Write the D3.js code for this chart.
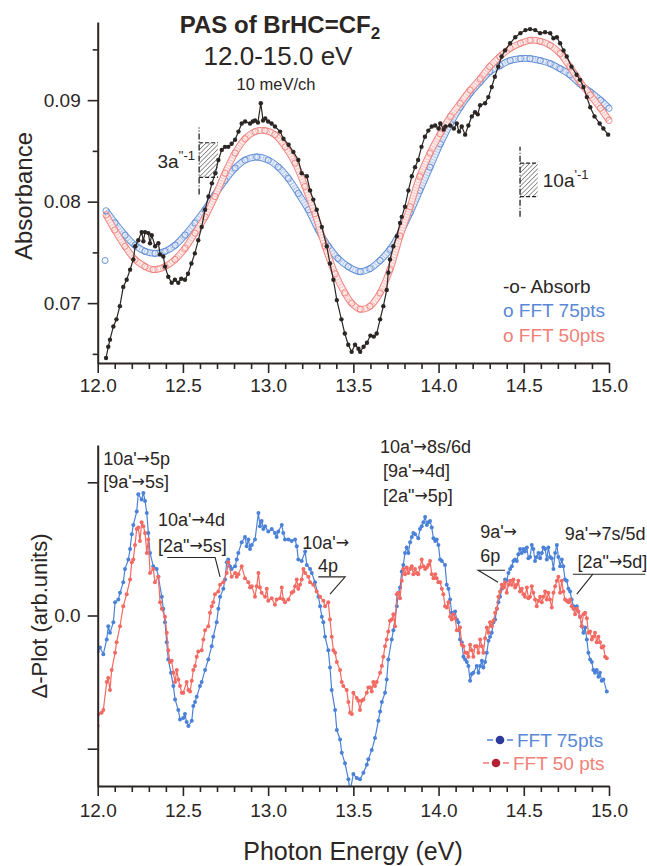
<!DOCTYPE html>
<html>
<head>
<meta charset="utf-8">
<script src="https://cdn.jsdelivr.net/npm/d3@7"></script>
<style>
  body { margin: 0; background: #fff; }
  svg { display: block; font-family: "Liberation Sans", Arial, sans-serif; }
</style>
</head>
<body>
<svg width="647" height="866"></svg>
<script>
// ---- Dados (eV, valor)
const absorb = [
  [12.049,0.0646],[12.062,0.0657],[12.072,0.0664],[12.092,0.0677],[12.110,0.0684],[12.130,0.0697],
  [12.150,0.0716],[12.170,0.0723],[12.190,0.0733],[12.209,0.0743],[12.220,0.0756],[12.238,0.0762],
  [12.258,0.0770],[12.268,0.0761],[12.278,0.0770],[12.297,0.0769],[12.307,0.0759],[12.317,0.0767],
  [12.337,0.0756],[12.356,0.0759],[12.366,0.0748],[12.385,0.0746],[12.395,0.0736],[12.414,0.0726],
  [12.434,0.0720],[12.453,0.0723],[12.473,0.0720],[12.490,0.0724],[12.512,0.0723],[12.530,0.0729],
  [12.550,0.0739],[12.570,0.0749],[12.590,0.0762],[12.610,0.0775],[12.630,0.0792],[12.650,0.0805],
  [12.670,0.0818],[12.690,0.0828],[12.708,0.0841],[12.728,0.0851],[12.747,0.0854],[12.766,0.0854],
  [12.786,0.0857],[12.806,0.0861],[12.826,0.0869],[12.845,0.0877],[12.865,0.0879],[12.894,0.0877],
  [12.910,0.0879],[12.923,0.0880],[12.940,0.0878],[12.957,0.0897],[12.970,0.0880],[12.983,0.0882],
  [13.000,0.0879],[13.020,0.0877],[13.040,0.0874],[13.070,0.0869],[13.090,0.0862],[13.120,0.0856],
  [13.148,0.0849],[13.177,0.0841],[13.197,0.0828],[13.227,0.0825],[13.246,0.0811],[13.265,0.0802],
  [13.285,0.0792],[13.315,0.0775],[13.344,0.0756],[13.363,0.0739],[13.383,0.0723],[13.403,0.0703],
  [13.430,0.0684],[13.450,0.0670],[13.470,0.0659],[13.490,0.0652],[13.510,0.0659],[13.530,0.0655],
  [13.540,0.0652],[13.560,0.0657],[13.580,0.0661],[13.600,0.0668],[13.620,0.0667],[13.637,0.0670],
  [13.657,0.0684],[13.676,0.0697],[13.696,0.0713],[13.705,0.0730],[13.715,0.0743],[13.735,0.0756],
  [13.755,0.0766],[13.774,0.0779],[13.784,0.0785],[13.803,0.0795],[13.823,0.0811],[13.843,0.0825],
  [13.862,0.0834],[13.880,0.0841],[13.900,0.0854],[13.920,0.0864],[13.940,0.0870],[13.960,0.0874],
  [13.980,0.0875],[14.000,0.0872],[14.010,0.0877],[14.030,0.0871],[14.040,0.0874],[14.068,0.0875],
  [14.090,0.0872],[14.107,0.0877],[14.120,0.0869],[14.136,0.0874],[14.156,0.0866],[14.175,0.0875],
  [14.195,0.0884],[14.214,0.0888],[14.230,0.0886],[14.244,0.0895],[14.273,0.0897],[14.292,0.0903],
  [14.312,0.0913],[14.330,0.0923],[14.350,0.0933],[14.370,0.0943],[14.390,0.0949],[14.420,0.0956],
  [14.450,0.0962],[14.480,0.0966],[14.510,0.0969],[14.537,0.0970],[14.567,0.0969],[14.596,0.0966],
  [14.625,0.0967],[14.655,0.0966],[14.674,0.0961],[14.694,0.0962],[14.713,0.0956],[14.733,0.0949],
  [14.752,0.0943],[14.780,0.0933],[14.810,0.0925],[14.830,0.0920],[14.850,0.0913],[14.870,0.0903],
  [14.890,0.0893],[14.915,0.0884],[14.945,0.0877],[14.967,0.0872],[14.995,0.0866]
];

const fft75Top = [
  [12.049,0.0791],[12.102,0.0779],[12.160,0.0767],[12.219,0.0757],[12.278,0.0751],[12.336,0.0749],
  [12.395,0.0751],[12.454,0.0757],[12.512,0.0767],[12.571,0.0779],[12.630,0.0792],[12.688,0.0807],
  [12.747,0.0821],[12.806,0.0833],[12.865,0.0841],[12.933,0.0844],[13.000,0.0841],[13.060,0.0834],
  [13.118,0.0823],[13.177,0.0808],[13.236,0.0792],[13.295,0.0772],[13.353,0.0756],[13.410,0.0744],
  [13.470,0.0736],[13.540,0.0731],[13.598,0.0734],[13.657,0.0742],[13.715,0.0753],[13.774,0.0769],
  [13.833,0.0789],[13.890,0.0811],[13.950,0.0834],[14.010,0.0857],[14.070,0.0877],[14.127,0.0893],
  [14.186,0.0907],[14.244,0.0918],[14.300,0.0928],[14.360,0.0934],[14.420,0.0939],[14.480,0.0941],
  [14.537,0.0941],[14.596,0.0939],[14.655,0.0936],[14.713,0.0931],[14.770,0.0925],[14.830,0.0916],
  [14.890,0.0908],[14.950,0.0900],[15.000,0.0892]
];
const fft75Stray = [[12.043,0.0742]];

const fft50Top = [
  [12.049,0.0787],[12.100,0.0772],[12.160,0.0756],[12.219,0.0743],[12.278,0.0736],[12.326,0.0733],
  [12.395,0.0736],[12.454,0.0743],[12.512,0.0754],[12.571,0.0769],[12.630,0.0785],[12.688,0.0805],
  [12.747,0.0828],[12.806,0.0848],[12.865,0.0862],[12.923,0.0869],[12.982,0.0870],[13.040,0.0866],
  [13.100,0.0854],[13.158,0.0838],[13.216,0.0815],[13.275,0.0788],[13.334,0.0756],[13.393,0.0729],
  [13.450,0.0710],[13.490,0.0700],[13.540,0.0694],[13.598,0.0697],[13.657,0.0710],[13.715,0.0733],
  [13.774,0.0766],[13.833,0.0795],[13.890,0.0825],[13.950,0.0848],[14.010,0.0867],[14.070,0.0884],
  [14.127,0.0897],[14.186,0.0910],[14.244,0.0921],[14.300,0.0933],[14.360,0.0943],[14.420,0.0951],
  [14.480,0.0956],[14.537,0.0959],[14.596,0.0958],[14.655,0.0954],[14.713,0.0946],[14.770,0.0933],
  [14.830,0.0918],[14.890,0.0905],[14.950,0.0892],[15.000,0.0880]
];

const fft75Delta = [
  [12.000,-0.27],[12.013,-0.24],[12.033,-0.29],[12.053,-0.18],[12.062,-0.08],[12.072,-0.13],[12.092,-0.05],
  [12.102,0.10],[12.121,0.12],[12.131,0.17],[12.150,0.25],[12.160,0.35],[12.180,0.42],[12.190,0.50],
  [12.200,0.61],[12.209,0.68],[12.229,0.78],[12.238,0.91],[12.258,0.87],[12.268,0.92],[12.278,0.86],
  [12.288,0.77],[12.297,0.62],[12.307,0.47],[12.326,0.37],[12.346,0.35],[12.356,0.29],[12.376,0.14],
  [12.385,0.05],[12.395,-0.05],[12.405,-0.20],[12.414,-0.33],[12.430,-0.43],[12.444,-0.53],[12.454,-0.63],
  [12.473,-0.71],[12.483,-0.78],[12.502,-0.77],[12.512,-0.74],[12.522,-0.80],[12.532,-0.83],[12.552,-0.79],
  [12.561,-0.68],[12.571,-0.65],[12.581,-0.61],[12.600,-0.53],[12.610,-0.50],[12.630,-0.41],[12.649,-0.33],
  [12.669,-0.23],[12.678,-0.16],[12.698,-0.05],[12.708,0.05],[12.718,0.14],[12.737,0.20],[12.747,0.27],
  [12.757,0.40],[12.766,0.42],[12.776,0.37],[12.786,0.35],[12.806,0.37],[12.816,0.42],[12.825,0.47],
  [12.845,0.55],[12.864,0.59],[12.874,0.52],[12.884,0.57],[12.894,0.50],[12.904,0.53],[12.923,0.57],
  [12.943,0.77],[12.952,0.67],[12.962,0.71],[12.972,0.65],[12.982,0.67],[13.001,0.63],[13.021,0.65],
  [13.040,0.62],[13.050,0.59],[13.060,0.63],[13.080,0.68],[13.089,0.62],[13.099,0.57],[13.119,0.57],
  [13.138,0.56],[13.158,0.57],[13.168,0.52],[13.177,0.42],[13.197,0.41],[13.217,0.48],[13.227,0.38],
  [13.246,0.35],[13.256,0.32],[13.275,0.25],[13.295,0.14],[13.305,0.07],[13.315,-0.01],[13.324,-0.05],
  [13.334,-0.16],[13.353,-0.26],[13.363,-0.39],[13.373,-0.56],[13.393,-0.71],[13.403,-0.86],[13.422,-0.93],
  [13.432,-1.03],[13.451,-1.11],[13.471,-1.23],[13.481,-1.32],[13.500,-1.19],[13.520,-1.22],[13.539,-1.23],
  [13.559,-1.18],[13.579,-1.12],[13.588,-1.08],[13.608,-1.01],[13.627,-0.92],[13.647,-0.79],[13.657,-0.72],
  [13.667,-0.65],[13.686,-0.58],[13.696,-0.48],[13.705,-0.33],[13.725,-0.18],[13.735,-0.11],[13.755,0.07],
  [13.764,0.17],[13.774,0.21],[13.784,0.33],[13.793,0.38],[13.803,0.47],[13.813,0.51],[13.823,0.47],
  [13.833,0.55],[13.843,0.59],[13.852,0.62],[13.862,0.61],[13.881,0.58],[13.891,0.65],[13.901,0.67],
  [13.911,0.70],[13.921,0.74],[13.931,0.68],[13.940,0.70],[13.950,0.71],[13.960,0.66],[13.970,0.58],
  [13.980,0.56],[13.989,0.57],[13.999,0.53],[14.009,0.42],[14.019,0.41],[14.038,0.38],[14.048,0.23],
  [14.058,0.20],[14.068,0.12],[14.077,0.02],[14.087,0.01],[14.097,0.03],[14.107,-0.03],[14.116,-0.05],
  [14.126,-0.18],[14.136,-0.20],[14.146,-0.31],[14.156,-0.33],[14.166,-0.35],[14.175,-0.38],[14.185,-0.49],
  [14.195,-0.44],[14.204,-0.43],[14.224,-0.38],[14.234,-0.43],[14.244,-0.38],[14.254,-0.34],[14.263,-0.39],
  [14.273,-0.35],[14.283,-0.28],[14.293,-0.19],[14.302,-0.16],[14.312,-0.13],[14.322,-0.05],[14.332,-0.03],
  [14.342,0.05],[14.351,0.10],[14.361,0.14],[14.371,0.20],[14.380,0.21],[14.390,0.27],[14.400,0.26],
  [14.410,0.32],[14.420,0.35],[14.430,0.37],[14.439,0.41],[14.449,0.42],[14.459,0.41],[14.468,0.46],
  [14.478,0.50],[14.488,0.47],[14.498,0.50],[14.507,0.48],[14.518,0.51],[14.527,0.43],[14.537,0.44],
  [14.547,0.53],[14.556,0.50],[14.566,0.41],[14.576,0.44],[14.586,0.47],[14.596,0.43],[14.606,0.47],
  [14.615,0.51],[14.625,0.50],[14.635,0.42],[14.644,0.51],[14.654,0.44],[14.664,0.43],[14.674,0.35],
  [14.684,0.47],[14.694,0.53],[14.703,0.44],[14.713,0.37],[14.723,0.42],[14.732,0.37],[14.742,0.27],
  [14.752,0.26],[14.762,0.20],[14.772,0.18],[14.781,0.12],[14.791,0.07],[14.801,0.05],[14.811,0.07],
  [14.830,-0.01],[14.840,-0.08],[14.850,-0.13],[14.860,-0.09],[14.870,-0.18],[14.879,-0.28],[14.889,-0.33],
  [14.899,-0.35],[14.908,-0.41],[14.918,-0.43],[14.928,-0.41],[14.938,-0.46],[14.947,-0.43],[14.957,-0.49],
  [14.967,-0.48],[14.987,-0.57]
];

const fft50Delta = [
  [12.000,-0.83],[12.004,-0.74],[12.023,-0.73],[12.033,-0.71],[12.053,-0.50],[12.062,-0.47],[12.072,-0.56],
  [12.082,-0.41],[12.102,-0.28],[12.111,-0.20],[12.131,-0.08],[12.150,0.07],[12.170,0.16],[12.190,0.27],
  [12.200,0.40],[12.209,0.42],[12.219,0.53],[12.229,0.65],[12.238,0.66],[12.248,0.56],[12.258,0.70],
  [12.268,0.67],[12.278,0.62],[12.288,0.47],[12.297,0.57],[12.307,0.32],[12.326,0.35],[12.336,0.25],
  [12.356,0.29],[12.366,0.10],[12.376,0.05],[12.395,-0.01],[12.405,-0.13],[12.414,-0.26],[12.424,-0.35],
  [12.434,-0.34],[12.444,-0.43],[12.454,-0.50],[12.464,-0.41],[12.473,-0.48],[12.483,-0.53],[12.493,-0.58],
  [12.502,-0.58],[12.522,-0.50],[12.532,-0.56],[12.542,-0.57],[12.552,-0.49],[12.561,-0.41],[12.571,-0.38],
  [12.581,-0.31],[12.590,-0.27],[12.610,-0.26],[12.620,-0.18],[12.630,-0.11],[12.649,-0.08],[12.659,0.02],
  [12.669,0.07],[12.678,0.10],[12.688,0.16],[12.708,0.18],[12.718,0.23],[12.737,0.25],[12.757,0.32],
  [12.766,0.40],[12.786,0.29],[12.806,0.32],[12.816,0.29],[12.825,0.31],[12.845,0.37],[12.864,0.28],
  [12.884,0.25],[12.894,0.21],[12.904,0.22],[12.923,0.14],[12.933,0.22],[12.943,0.32],[12.952,0.21],
  [12.962,0.17],[12.982,0.14],[12.992,0.20],[13.001,0.11],[13.021,0.13],[13.040,0.08],[13.050,0.12],
  [13.070,0.13],[13.080,0.21],[13.089,0.12],[13.099,0.10],[13.119,0.12],[13.138,0.17],[13.148,0.18],
  [13.158,0.22],[13.168,0.27],[13.177,0.20],[13.187,0.23],[13.197,0.27],[13.207,0.35],[13.217,0.32],
  [13.236,0.29],[13.246,0.25],[13.265,0.23],[13.285,0.18],[13.305,0.14],[13.324,0.11],[13.334,0.07],
  [13.353,0.10],[13.363,-0.03],[13.373,-0.16],[13.383,-0.26],[13.393,-0.28],[13.403,-0.35],[13.422,-0.41],
  [13.432,-0.50],[13.441,-0.53],[13.461,-0.56],[13.471,-0.65],[13.481,-0.73],[13.491,-0.74],[13.500,-0.58],
  [13.520,-0.62],[13.529,-0.64],[13.539,-0.71],[13.549,-0.64],[13.559,-0.63],[13.579,-0.58],[13.588,-0.54],
  [13.598,-0.54],[13.608,-0.57],[13.617,-0.50],[13.627,-0.53],[13.637,-0.50],[13.657,-0.43],[13.667,-0.38],
  [13.676,-0.31],[13.686,-0.23],[13.696,-0.18],[13.705,-0.12],[13.715,-0.04],[13.725,-0.03],[13.735,0.01],
  [13.745,-0.08],[13.755,0.16],[13.764,0.17],[13.774,0.13],[13.784,0.26],[13.793,0.35],[13.803,0.31],
  [13.813,0.36],[13.823,0.32],[13.833,0.35],[13.843,0.37],[13.852,0.31],[13.862,0.35],[13.872,0.32],
  [13.881,0.31],[13.891,0.36],[13.901,0.42],[13.911,0.37],[13.921,0.35],[13.931,0.36],[13.940,0.38],
  [13.950,0.41],[13.960,0.31],[13.970,0.28],[13.980,0.31],[13.989,0.28],[13.999,0.25],[14.009,0.25],
  [14.019,0.20],[14.028,0.16],[14.038,0.07],[14.048,0.06],[14.058,0.10],[14.068,-0.01],[14.077,-0.03],
  [14.087,0.01],[14.097,-0.02],[14.107,-0.11],[14.116,-0.11],[14.126,-0.09],[14.136,-0.22],[14.146,-0.23],
  [14.156,-0.28],[14.166,-0.28],[14.175,-0.31],[14.185,-0.22],[14.195,-0.26],[14.204,-0.31],[14.214,-0.23],
  [14.224,-0.23],[14.234,-0.28],[14.244,-0.18],[14.254,-0.23],[14.263,-0.28],[14.273,-0.17],[14.283,-0.09],
  [14.293,-0.13],[14.302,-0.05],[14.312,-0.08],[14.322,-0.04],[14.332,0.02],[14.342,0.05],[14.351,0.14],
  [14.361,0.18],[14.371,0.23],[14.380,0.21],[14.390,0.25],[14.400,0.17],[14.410,0.23],[14.420,0.26],
  [14.430,0.23],[14.439,0.27],[14.449,0.21],[14.459,0.23],[14.468,0.26],[14.478,0.18],[14.488,0.20],
  [14.498,0.16],[14.507,0.14],[14.518,0.21],[14.527,0.13],[14.537,0.14],[14.547,0.22],[14.556,0.17],
  [14.566,0.12],[14.576,0.07],[14.586,0.11],[14.596,0.14],[14.606,0.10],[14.615,0.14],[14.625,0.18],
  [14.635,0.12],[14.644,0.17],[14.654,0.12],[14.664,0.06],[14.674,0.17],[14.684,0.22],[14.694,0.26],
  [14.703,0.29],[14.713,0.17],[14.723,0.26],[14.732,0.18],[14.742,0.12],[14.752,0.11],[14.762,0.10],
  [14.772,0.12],[14.781,0.07],[14.791,0.05],[14.801,0.01],[14.811,0.05],[14.820,0.03],[14.830,-0.01],
  [14.840,-0.08],[14.850,0.01],[14.860,0.02],[14.870,-0.02],[14.879,-0.13],[14.889,-0.12],[14.899,-0.18],
  [14.908,-0.16],[14.918,-0.13],[14.928,-0.20],[14.938,-0.16],[14.947,-0.20],[14.957,-0.24],[14.967,-0.23],
  [14.977,-0.31],[14.987,-0.32]
];

// ---- Ticks
const xMajor = [12.0, 12.5, 13.0, 13.5, 14.0, 14.5, 15.0];
const xMinor = [12.1,12.2,12.3,12.4,12.6,12.7,12.8,12.9,13.1,13.2,13.3,13.4,13.6,13.7,13.8,13.9,14.1,14.2,14.3,14.4,14.6,14.7,14.8,14.9];
const yTopMajor = [0.07, 0.08, 0.09];
const yTopMinor = [0.065, 0.075, 0.085, 0.095];
const yBotMajor = [-1, 0, 1];

// ---- Anotações do painel inferior (eV, unidades)
const labels = [
  { t: "10a'\u21925p", x: 12.032, y: 1.13 },
  { t: "[9a'\u21925s]", x: 12.032, y: 0.96 },
  { t: "10a'\u21924d", x: 12.354, y: 0.67 },
  { t: "[2a\"\u21925s]", x: 12.354, y: 0.48 },
  { t: "10a'\u2192", x: 13.20, y: 0.50 },
  { t: "4p", x: 13.293, y: 0.33 },
  { t: "10a'\u21928s/6d", x: 13.657, y: 1.22 },
  { t: "[9a'\u21924d]", x: 13.674, y: 1.04 },
  { t: "[2a\"\u21925p]", x: 13.674, y: 0.855 },
  { t: "9a'\u2192", x: 14.244, y: 0.585 },
  { t: "6p", x: 14.244, y: 0.405 },
  { t: "9a'\u21927s/5d", x: 14.740, y: 0.57 },
  { t: "[2a\"\u21925d]", x: 14.815, y: 0.36 }
];
const leaders = [
  [[12.408,0.435],[12.689,0.435],[12.718,0.29]],
  [[13.294,0.29],[13.452,0.29],[13.363,0.16]],
  [[14.390,0.34],[14.232,0.34],[14.349,0.25]],
  [[15.212,0.31],[14.788,0.31]],
  [[14.905,0.31],[14.811,0.16]]
];
// ---- Caixas hachuradas (eV, absorbância)
const boxes = [
  { x0: 12.595, x1: 12.706, y0: 0.0824, y1: 0.0858, l0: 0.0807, l1: 0.0873, label: '3a', sup: "''-1", side: 'left' },
  { x0: 14.478, x1: 14.582, y0: 0.0805, y1: 0.0838, l0: 0.0785, l1: 0.0854, label: '10a', sup: "'-1", side: 'right' }
];

const ink = '#2b2624';
const blueO = '#6590d6', redO = '#ef8580';
const blueL = '#4b82d8', redL = '#f26a62';

const svg = d3.select('svg');

// ---- Escalas
const x = d3.scaleLinear().domain([12, 15]).range([97.7, 609]);
const yTop = d3.scaleLinear().domain([0.0641, 0.0977]).range([363, 22]);
const yBot = d3.scaleLinear().domain([-1.28, 1.28]).range([786, 445]);

const defs = svg.append('defs');
const hatch = defs.append('pattern').attr('id', 'hatch').attr('patternUnits', 'userSpaceOnUse')
  .attr('width', 3.2).attr('height', 3.2).attr('patternTransform', 'rotate(45)');
hatch.append('line').attr('x1', 0).attr('y1', 0).attr('x2', 0).attr('y2', 3.2)
  .attr('stroke', '#333').attr('stroke-width', 1);
defs.append('clipPath').attr('id', 'clipBot').append('rect')
  .attr('x', x(12)).attr('y', yBot(1.28)).attr('width', x(15) - x(12) + 4).attr('height', yBot(-1.28) - yBot(1.28));

// ---- Cadeia de círculos abertos (FFT)
function tube(data, color) {
  const line = d3.line().x(d => x(d[0])).y(d => yTop(d[1])).curve(d3.curveCatmullRom);
  const g = svg.append('g');
  g.append('path').attr('d', line(data)).attr('fill', 'none').attr('stroke', color).attr('stroke-width', 6.8);
  g.append('path').attr('d', line(data)).attr('fill', 'none').attr('stroke', '#fff').attr('stroke-width', 4.8).attr('stroke-opacity', 0.85);
  g.append('path').attr('d', line(data)).attr('fill', 'none').attr('stroke', color).attr('stroke-width', 4.6)
    .attr('stroke-dasharray', '1 1.8').attr('stroke-opacity', 0.4);
  g.selectAll('circle').data(data).join('circle')
    .attr('cx', d => x(d[0])).attr('cy', d => yTop(d[1])).attr('r', 3.1)
    .attr('fill', 'none').attr('stroke', color).attr('stroke-width', 0.9);
}
tube(fft75Top, blueO);
tube(fft50Top, redO);
svg.append('g').selectAll('circle').data(fft75Stray).join('circle')
  .attr('cx', d => x(d[0])).attr('cy', d => yTop(d[1])).attr('r', 3)
  .attr('fill', 'none').attr('stroke', blueO).attr('stroke-width', 1);

// ---- Série com marcadores
function dotted(data, y, color, r, clip) {
  const g = svg.append('g');
  if (clip) g.attr('clip-path', 'url(#clipBot)');
  const line = d3.line().x(d => x(d[0])).y(d => y(d[1]));
  g.append('path').attr('d', line(data)).attr('fill', 'none').attr('stroke', color).attr('stroke-width', 1.2);
  g.selectAll('circle').data(data).join('circle')
    .attr('cx', d => x(d[0])).attr('cy', d => y(d[1])).attr('r', r).attr('fill', color);
}
dotted(absorb, yTop, ink, 2.2, false);
dotted(fft75Delta, yBot, blueL, 2, true);
dotted(fft50Delta, yBot, redL, 2, true);

// ---- Eixos
function styleAxis(g) {
  g.select('.domain').attr('stroke', ink).attr('stroke-width', 2);
  g.selectAll('.tick line').attr('stroke', ink).attr('stroke-width', 1.6);
  g.selectAll('.tick text').attr('fill', ink).attr('font-size', 19)
    .attr('font-family', '"Liberation Sans", Arial, sans-serif');
}
function xAxis(yPos, pad) {
  const gm = svg.append('g').attr('transform', `translate(0,${yPos})`)
    .call(d3.axisBottom(x).tickValues(xMinor).tickSize(6).tickSizeOuter(0).tickFormat(''));
  gm.select('.domain').remove();
  styleAxis(gm);
  const g = svg.append('g').attr('transform', `translate(0,${yPos})`)
    .call(d3.axisBottom(x).tickValues(xMajor).tickSize(10).tickSizeOuter(0).tickPadding(pad).tickFormat(d3.format('.1f')));
  styleAxis(g);
}
xAxis(yTop.range()[0], 6);
xAxis(yBot.range()[0], 8);

const gTm = svg.append('g').attr('transform', `translate(${x(12)},0)`)
  .call(d3.axisLeft(yTop).tickValues(yTopMinor).tickSize(5).tickSizeOuter(0).tickFormat(''));
gTm.select('.domain').remove();
styleAxis(gTm);
const gT = svg.append('g').attr('transform', `translate(${x(12)},0)`)
  .call(d3.axisLeft(yTop).tickValues(yTopMajor).tickSize(10).tickSizeOuter(0).tickPadding(7).tickFormat(d3.format('.2f')));
styleAxis(gT);
const gB = svg.append('g').attr('transform', `translate(${x(12)},0)`)
  .call(d3.axisLeft(yBot).tickValues(yBotMajor).tickSize(10).tickSizeOuter(0).tickPadding(7)
    .tickFormat(d => d === 0 ? '0.0' : ''));
styleAxis(gB);

// ---- Títulos dos eixos
svg.append('text').attr('transform', 'translate(32,196) rotate(-90)').attr('text-anchor', 'middle')
  .attr('font-size', 24).attr('fill', ink).text('Absorbance');
svg.append('text').attr('transform', 'translate(47,616) rotate(-90)').attr('text-anchor', 'middle')
  .attr('font-size', 22).attr('fill', ink).text('\u0394-Plot (arb.units)');
svg.append('text').attr('x', 353).attr('y', 860).attr('text-anchor', 'middle')
  .attr('font-size', 25).attr('fill', ink).text('Photon Energy (eV)');

// ---- Título
const title = svg.append('text').attr('x', 280).attr('y', 33).attr('text-anchor', 'middle')
  .attr('font-size', 24).attr('font-weight', 'bold').attr('fill', ink);
title.append('tspan').text('PAS of BrHC=CF');
title.append('tspan').attr('font-size', 17).attr('dy', 6).text('2');
svg.append('text').attr('x', 278).attr('y', 65).attr('text-anchor', 'middle')
  .attr('font-size', 26).attr('fill', ink).text('12.0-15.0 eV');
svg.append('text').attr('x', 276).attr('y', 90).attr('text-anchor', 'middle')
  .attr('font-size', 16.5).attr('fill', ink).text('10 meV/ch');

// ---- Caixas hachuradas
boxes.forEach(b => {
  const g = svg.append('g');
  g.append('rect').attr('x', x(b.x0)).attr('y', yTop(b.y1))
    .attr('width', x(b.x1) - x(b.x0)).attr('height', yTop(b.y0) - yTop(b.y1)).attr('fill', 'url(#hatch)');
  [b.y0, b.y1].forEach(v => g.append('line').attr('x1', x(b.x0)).attr('x2', x(b.x1))
    .attr('y1', yTop(v)).attr('y2', yTop(v)).attr('stroke', '#222').attr('stroke-width', 1.2).attr('stroke-dasharray', '4 2'));
  g.append('line').attr('x1', x(b.x0)).attr('x2', x(b.x0)).attr('y1', yTop(b.l0)).attr('y2', yTop(b.l1))
    .attr('stroke', '#222').attr('stroke-width', 1.3).attr('stroke-dasharray', '6 2 1 2');
  const t = g.append('text').attr('font-size', 19).attr('fill', ink);
  if (b.side === 'left') {
    t.attr('x', x(b.x0) - 4).attr('y', yTop(b.y0) - 9).attr('text-anchor', 'end');
  } else {
    t.attr('x', x(b.x1) + 5).attr('y', yTop(b.y0) - 10);
  }
  t.append('tspan').text(b.label);
  t.append('tspan').attr('font-size', 13).attr('dy', -8).text(b.sup);
});

// ---- Legenda superior
[['-o- Absorb', ink, 293], ['o FFT 75pts', '#5a88d6', 317], ['o FFT 50pts', '#f27f78', 342]].forEach(([t, c, yy]) => {
  svg.append('text').attr('x', 503).attr('y', yy).attr('font-size', 19).attr('fill', c).text(t);
});

// ---- Anotações inferiores (seta em fonte própria)
const gl = svg.append('g');
labels.forEach(d => {
  const t = gl.append('text').attr('x', x(d.x)).attr('y', yBot(d.y)).attr('font-size', 18).attr('fill', ink);
  d.t.split('\u2192').forEach((part, i) => {
    if (i > 0) {
      t.append('tspan').attr('font-family', '"DejaVu Sans", sans-serif').attr('font-size', 16)
        .attr('dy', -1).text('\u2192');
      t.append('tspan').attr('dy', 1).text(part);
    } else {
      t.append('tspan').text(part);
    }
  });
});
svg.append('g').selectAll('path').data(leaders).join('path')
  .attr('d', d3.line().x(d => x(d[0])).y(d => yBot(d[1])))
  .attr('fill', 'none').attr('stroke', ink).attr('stroke-width', 1.1);

// ---- Legenda inferior
[['FFT 75pts', '#5a88d6', '#2c3a9c', 747], ['FFT 50 pts', '#f27f78', '#b62035', 770]].forEach(([t, c, dc, yy], i) => {
  const g = svg.append('g');
  const x0 = i === 0 ? 487 : 483;
  g.append('line').attr('x1', x0).attr('x2', x0 + 6).attr('y1', yy - 7).attr('y2', yy - 7)
    .attr('stroke', c).attr('stroke-width', 1.6);
  g.append('line').attr('x1', x0 + 20).attr('x2', x0 + 26).attr('y1', yy - 7).attr('y2', yy - 7)
    .attr('stroke', c).attr('stroke-width', 1.6);
  g.append('circle').attr('cx', x0 + 13).attr('cy', yy - 7).attr('r', 4.3).attr('fill', dc);
  g.append('text').attr('x', x0 + 30).attr('y', yy).attr('font-size', 19).attr('fill', c).text(t);
});
</script>
</body>
</html>
